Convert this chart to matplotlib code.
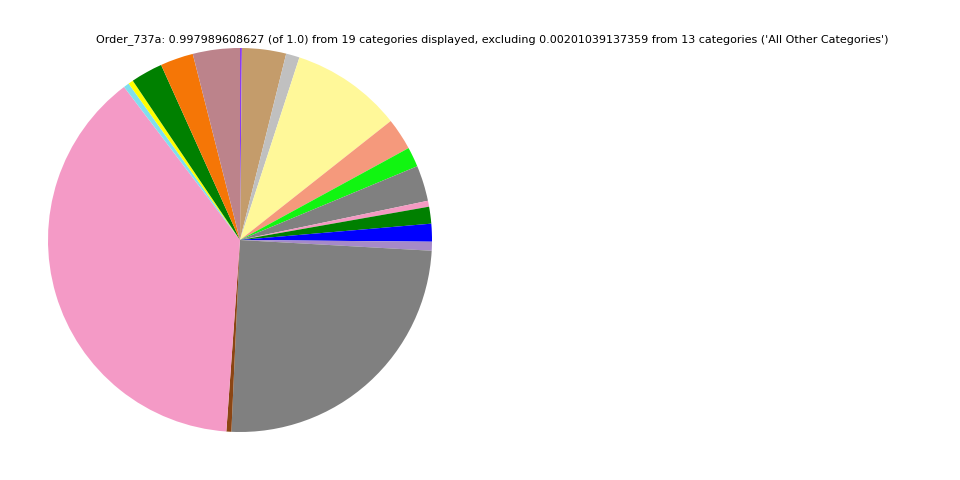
import matplotlib
matplotlib.use('Agg')
import matplotlib.pyplot as plt

# Slice shares, clockwise from 12 o'clock
values = [0.0016, 0.0371, 0.0114, 0.0936, 0.0269, 0.0167, 0.0300, 0.0050, 0.0142,
          0.0150, 0.0075, 0.2483, 0.0042, 0.3856, 0.0047, 0.0042, 0.0269, 0.0278, 0.0396]
colors = ['#8a3cf0', '#c49c6b', '#c0c0c0', '#fff899', '#f5997c', '#11f511', '#808080',
          '#f49ac2', '#008000', '#0000ff', '#a68ac8', '#808080', '#8b4513', '#f49ac6',
          '#7fdfee', '#ffff00', '#008000', '#f57606', '#bc838b']
title = ("Order_737a: 0.997989608627 (of 1.0) from 19 categories displayed, "
         "excluding 0.00201039137359 from 13 categories ('All Other Categories')")

fig = plt.figure(figsize=(9.6, 4.8), dpi=100)
ax = fig.add_axes([0.05, 0.1, 0.4, 0.8])
ax.pie(values, colors=colors, startangle=90, counterclock=False,
       wedgeprops=dict(linewidth=0))
ax.set_aspect('equal')
ax.set_xlim(-1, 1)
ax.set_ylim(-1, 1)

fig.text(0.5125, 0.917, title, ha='center', va='center', fontsize=8,
         family='DejaVu Sans')

fig.savefig('out.png', dpi=100)
